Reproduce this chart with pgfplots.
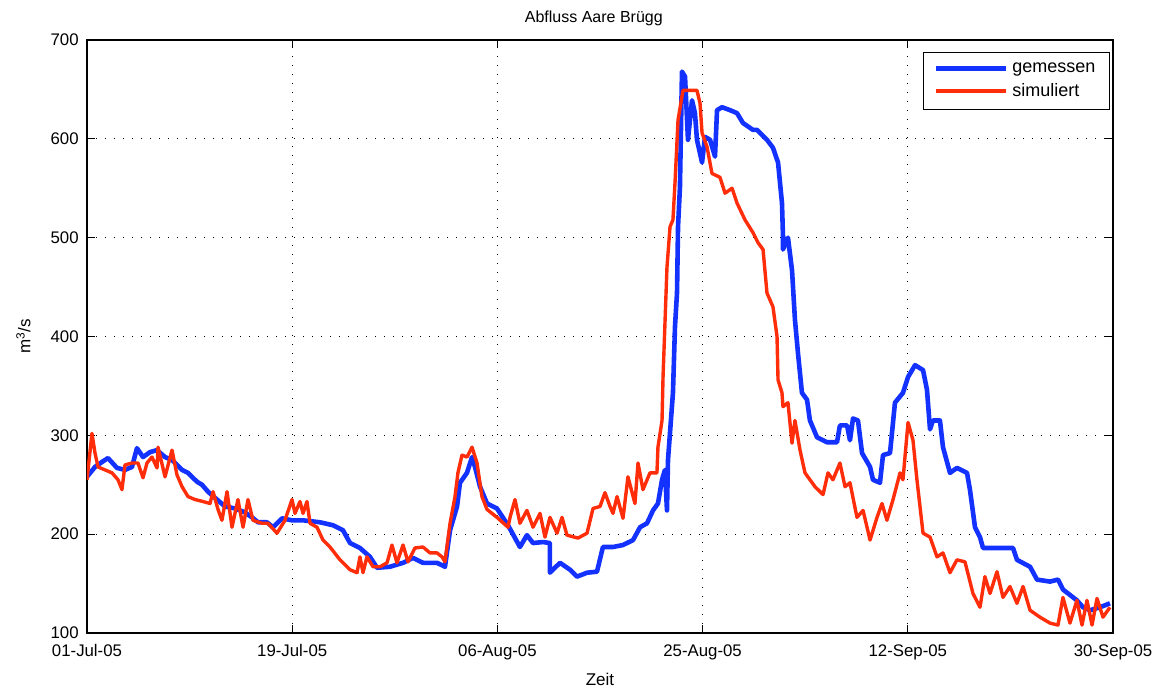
\documentclass[border=0pt]{standalone}
\usepackage{pgfplots}
\pgfplotsset{compat=1.18}
\usepackage{fontspec}
\setmainfont{Liberation Sans}
\definecolor{mblue}{RGB}{20,50,255}
\definecolor{mred}{RGB}{255,45,10}
\begin{document}
\begin{tikzpicture}
\begin{axis}[
  scale only axis,
  width=513pt, height=296.5pt,
  xmin=0, xmax=91, ymin=100, ymax=700,
  xtick={0,18.2,36.4,54.6,72.8,91},
  xticklabels={01-Jul-05,19-Jul-05,06-Aug-05,25-Aug-05,12-Sep-05,30-Sep-05},
  ytick={100,200,300,400,500,600,700},
  /pgf/number format/assume math mode=true,
  tick label style={font=\fontsize{8.4}{9}\selectfont, inner sep=1pt},
  xticklabel style={yshift=-4.5pt},
  yticklabel style={xshift=-3pt},
  tick align=inside, xtick pos=both, ytick pos=both,
  major tick length=4pt,
  axis line style={line width=0.6pt},
  every tick/.style={black, line width=0.6pt},
  grid=major,
  major grid style={black, line width=0.6pt, dash pattern=on 0.6pt off 3.9pt},
  every axis title shift=0pt,
  title={Abfluss Aare Brügg},
  title style={font=\fontsize{8}{10}\selectfont, at={(axis description cs:0.494,1.037)}, anchor=center},
  xlabel={Zeit},
  xlabel style={font=\fontsize{8.5}{10}\selectfont, at={(axis description cs:0.5,-0.079)}, anchor=center},
  ylabel={m\textsuperscript{3}/s},
  ylabel style={font=\fontsize{8.5}{10}\selectfont, at={(axis description cs:-0.062,0.5)}, anchor=center},
  legend cell align=left,
  legend image code/.code={\draw[#1] (0pt,0pt) -- (35pt,0pt);},
  legend style={at={(axis description cs:0.997,0.980)}, anchor=north east,
    draw=black, line width=0.6pt, font=\fontsize{9}{10}\selectfont,
    inner xsep=5pt, inner ysep=3pt, row sep=0pt},
]
\addplot[mblue, line width=2.3pt, line join=round] coordinates {
(0.00,258)(0.71,268)(1.33,273)(1.86,277)(2.66,267)(3.37,265)(3.99,268)(4.43,287)(4.97,278)(5.59,283)
(6.21,285)(6.92,278)(7.54,275)(8.43,265)(8.96,262)(9.76,253)(10.20,250)(10.73,243)(11.53,235)(12.24,228)
(13.13,226)(14.01,222)(14.63,217)(15.17,212)(15.96,212)(16.50,207)(17.29,216)(18.18,214)(19.16,214)(20.67,212)
(21.82,209)(22.70,204)(23.33,191)(24.21,186)(25.10,177)(25.72,166)(26.87,167)(28.03,171)(28.91,176)(29.80,171)
(31.04,171)(31.75,167)(32.20,204)(32.82,228)(33.08,252)(33.70,262)(34.15,278)(34.41,268)(34.86,248)(35.48,231)
(36.36,226)(37.34,209)(38.40,187)(39.02,199)(39.56,191)(40.44,192)(41.06,191)(41.06,161)(41.95,171)(42.84,164)
(43.46,157)(44.35,161)(45.23,162)(45.76,187)(46.65,187)(47.54,189)(48.43,194)(49.05,207)(49.67,211)(50.20,224)
(50.64,231)(51.00,255)(51.26,265)(51.44,224)(51.53,275)(51.97,343)(52.15,410)(52.33,444)(52.42,511)(52.59,551)
(52.77,668)(53.04,663)(53.22,619)(53.30,599)(53.66,639)(53.92,626)(54.10,599)(54.55,576)(54.81,602)(55.26,599)
(55.70,582)(55.88,629)(56.32,632)(57.03,629)(57.65,626)(58.18,616)(59.07,609)(59.42,609)(60.31,599)(60.84,591)
(61.29,576)(61.64,535)(61.73,501)(61.73,488)(62.17,500)(62.53,467)(62.79,417)(63.06,383)(63.41,343)(63.86,336)
(64.12,315)(64.75,298)(65.63,293)(66.52,293)(66.78,310)(67.41,310)(67.67,295)(67.94,317)(68.38,315)(68.74,282)
(69.45,268)(69.71,255)(70.33,252)(70.60,280)(71.22,282)(71.66,333)(72.37,343)(72.82,359)(73.44,371)(74.15,366)
(74.50,346)(74.77,306)(75.03,315)(75.65,315)(75.92,288)(76.54,262)(77.16,267)(78.05,262)(78.31,245)(78.76,207)
(79.20,197)(79.47,186)(82.13,186)(82.48,174)(83.64,167)(84.26,154)(85.41,152)(86.12,154)(86.56,144)(87.80,133)
(88.34,126)(88.96,123)(89.84,126)(90.73,130)
};
\addlegendentry{gemessen}
\addplot[mred, line width=1.7pt, line join=round] coordinates {
(0.00,255)(0.44,302)(0.71,282)(0.98,268)(1.60,265)(2.22,262)(2.75,255)(3.10,245)(3.37,270)(3.99,272)
(4.52,272)(4.97,257)(5.32,272)(5.76,278)(6.21,267)(6.30,288)(6.92,258)(7.54,285)(7.98,260)(8.43,248)
(8.96,238)(9.58,235)(10.29,233)(10.91,231)(11.18,243)(11.62,225)(11.97,214)(12.42,243)(12.86,207)(13.39,235)
(13.84,207)(14.28,235)(14.72,214)(15.52,211)(16.05,211)(16.85,201)(17.56,214)(18.18,235)(18.45,221)(18.89,233)
(19.16,221)(19.51,233)(19.78,211)(20.40,207)(20.93,194)(21.55,187)(22.44,174)(23.33,164)(23.95,161)(24.21,177)
(24.48,161)(24.83,177)(25.37,167)(25.99,167)(26.61,171)(27.05,189)(27.49,171)(28.03,189)(28.47,172)(29.09,186)
(29.80,187)(30.42,181)(31.04,181)(31.49,177)(31.75,172)(32.20,211)(32.64,238)(32.90,262)(33.26,280)(33.70,278)
(34.15,288)(34.59,272)(35.03,238)(35.48,225)(36.36,217)(37.34,207)(37.52,217)(37.96,235)(38.40,211)(39.02,224)
(39.56,207)(40.18,221)(40.62,197)(41.06,217)(41.69,201)(42.13,217)(42.57,199)(43.55,196)(44.35,201)(44.88,226)
(45.50,228)(45.94,242)(46.39,228)(46.65,221)(47.01,238)(47.54,216)(47.98,258)(48.60,231)(48.87,272)(49.31,245)
(49.93,262)(50.55,262)(50.64,288)(51.00,315)(51.09,359)(51.44,470)(51.71,511)(51.97,518)(52.15,555)(52.42,619)
(52.86,649)(54.10,649)(54.37,636)(54.55,606)(54.99,592)(55.43,565)(56.14,561)(56.59,545)(57.21,550)(57.65,535)
(58.36,518)(59.07,505)(59.51,495)(59.96,488)(60.31,444)(60.84,430)(61.20,400)(61.29,356)(61.64,343)(61.73,329)
(62.17,333)(62.53,292)(62.79,315)(63.24,285)(63.68,262)(64.57,248)(65.28,240)(65.72,262)(66.16,255)(66.78,272)
(67.23,248)(67.67,252)(68.29,217)(68.83,224)(69.45,194)(70.07,217)(70.51,231)(70.95,214)(71.49,235)(72.11,262)
(72.37,255)(72.82,313)(73.26,295)(73.61,255)(74.15,201)(74.77,197)(75.39,177)(75.92,181)(76.54,161)(77.16,174)
(77.87,172)(78.58,140)(79.20,126)(79.64,157)(80.09,140)(80.71,162)(81.24,136)(81.86,147)(82.48,130)(83.02,147)
(83.64,123)(84.52,116)(85.41,110)(86.12,108)(86.56,136)(87.18,110)(87.80,133)(88.25,108)(88.69,133)(89.14,108)
(89.58,135)(90.11,116)(90.73,126)
};
\addlegendentry{simuliert}
\end{axis}
\path (current axis.south west) ++(-43.5pt,-29.5pt);
\path (current axis.north east) ++(28.5pt,20pt);
\end{tikzpicture}
\end{document}
